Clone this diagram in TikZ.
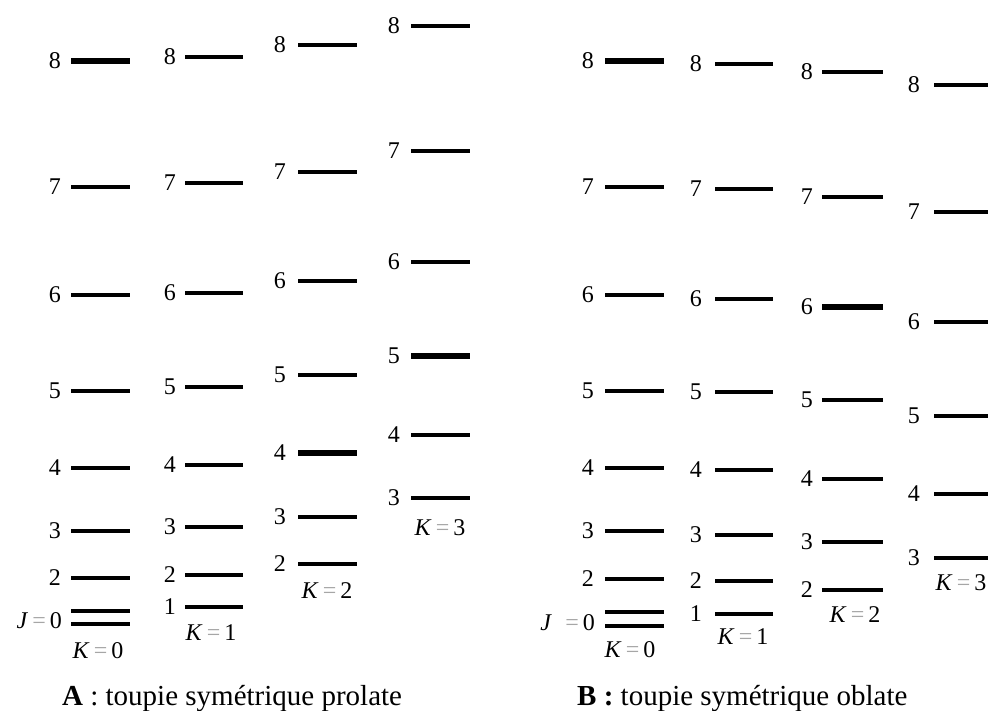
\documentclass[tikz,border=0pt]{standalone}
\usepackage{fontspec}
\setmainfont{Liberation Serif}
\newcommand\numfont{\fontsize{24}{24}\selectfont}
\newcommand\capfont{\fontsize{29}{29}\selectfont}
\newcommand\eqs{{\color{gray!70}=}}
\begin{document}
\begin{tikzpicture}[x=1pt,y=-1pt,
  num/.style={anchor=east,inner sep=0pt,font=\numfont},
  klab/.style={anchor=center,inner sep=0pt,font=\numfont},
  caption/.style={anchor=base west,inner sep=0pt,font=\capfont}]
\useasboundingbox[fill=white] (0,0) rectangle (988,711);
% ---------- Panel A ----------
% column K=0
\foreach \y/\t/\w in {61/8/6.5,187/7/4.5,295/6/4.5,391/5/4.5,468/4/4.5,531/3/4.5,578/2/4.5}{
  \draw[line width=\w pt] (71,\y) -- (130,\y);
  \node[num] at (61,\y) {\t};}
\draw[line width=4.5pt] (71,611) -- (130,611);
\draw[line width=4.5pt] (71,624) -- (130,624);
\node[num] (JA) at (62,621) {\textit{J}\,\eqs\,0};
\node[klab] (KA0) at (98,651) {\textit{K}\,\eqs\,0};
% column K=1
\foreach \y/\t/\w in {57/8/4.5,183/7/4.5,293/6/4.5,387/5/4.5,465/4/4.5,527/3/4.5,575/2/4.5,607/1/4.5}{
  \draw[line width=\w pt] (185,\y) -- (243,\y);
  \node[num] at (176,\y) {\t};}
\node[klab] (KA1) at (211,633) {\textit{K}\,\eqs\,1};
% column K=2
\foreach \y/\t/\w in {45/8/4.5,172/7/4.5,281/6/4.5,375/5/4.5,453/4/6.5,517/3/4.5,564/2/4.5}{
  \draw[line width=\w pt] (298,\y) -- (357,\y);
  \node[num] at (286,\y) {\t};}
\node[klab] (KA2) at (327,591) {\textit{K}\,\eqs\,2};
% column K=3
\foreach \y/\t/\w in {26/8/4.5,151/7/4.5,262/6/4.5,356/5/6.5,435/4/4.5,498/3/4.5}{
  \draw[line width=\w pt] (411,\y) -- (470,\y);
  \node[num] at (400,\y) {\t};}
\node[klab] (KA3) at (440,528) {\textit{K}\,\eqs\,3};
\node[caption] (capA) at (62,705) {\textbf{A} : toupie symétrique prolate};
% ---------- Panel B ----------
% column K=0
\foreach \y/\t/\w in {61/8/6.5,187/7/4.5,295/6/4.5,391/5/4.5,468/4/4.5,531/3/4.5,579/2/4.5}{
  \draw[line width=\w pt] (605,\y) -- (664,\y);
  \node[num] at (594,\y) {\t};}
\draw[line width=4.5pt] (605,612) -- (664,612);
\draw[line width=4.5pt] (605,626) -- (664,626);
\node[num] (JB) at (595,623) {\textit{J}\;\;\eqs\,0};
\node[klab] (KB0) at (630,650) {\textit{K}\,\eqs\,0};
% column K=1
\foreach \y/\t/\w in {64/8/4.5,189/7/4.5,299/6/4.5,392/5/4.5,470/4/4.5,535/3/4.5,581/2/4.5,614/1/4.5}{
  \draw[line width=\w pt] (715,\y) -- (773,\y);
  \node[num] at (702,\y) {\t};}
\node[klab] (KB1) at (743,637) {\textit{K}\,\eqs\,1};
% column K=2
\foreach \y/\t/\w in {72/8/4.5,197/7/4.5,307/6/6.5,400/5/4.5,479/4/4.5,542/3/4.5,590/2/4.5}{
  \draw[line width=\w pt] (822,\y) -- (883,\y);
  \node[num] at (813,\y) {\t};}
\node[klab] (KB2) at (855,615) {\textit{K}\,\eqs\,2};
% column K=3
\foreach \y/\t/\w in {85/8/4.5,212/7/4.5,322/6/4.5,416/5/4.5,494/4/4.5,558/3/4.5}{
  \draw[line width=\w pt] (934,\y) -- (990,\y);
  \node[num] at (920,\y) {\t};}
\node[klab] (KB3) at (961,583) {\textit{K}\,\eqs\,3};
\node[caption] (capB) at (577,705) {\textbf{B :} toupie symétrique oblate};
\end{tikzpicture}
\end{document}
